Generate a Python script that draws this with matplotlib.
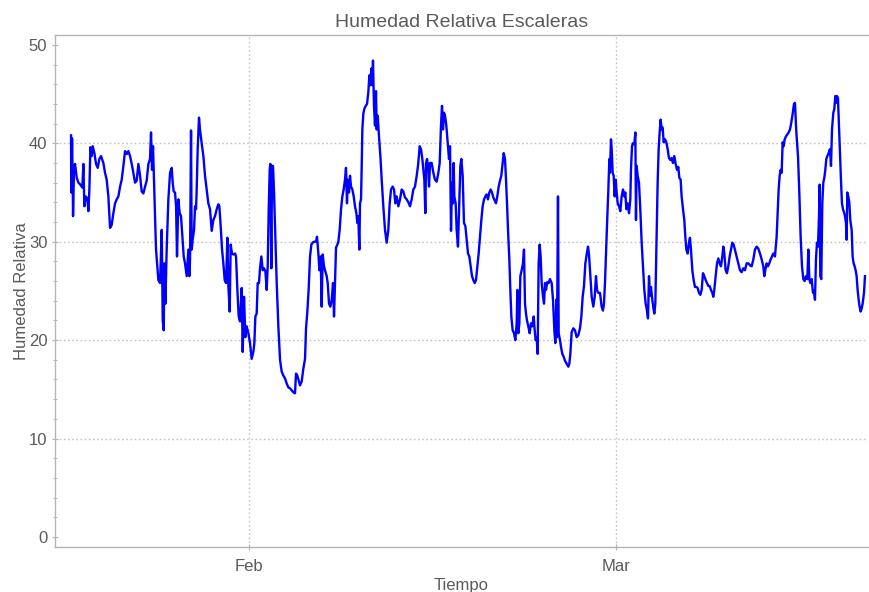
import matplotlib
matplotlib.use("Agg")
import matplotlib.pyplot as plt
import matplotlib.dates as mdates
import pandas as pd

# Registro de humedad relativa (sensor de la escalera)
inicio = "2020-01-17 22:25"

# horas transcurridas desde el inicio del registro
horas = [
    0.0, 0.6, 1.9, 3.2, 3.8, 5.7, 7.6, 10.8, 13.9, 17.7, 21.5, 23.4, 25.3, 27.8, 31.0, 32.9, 34.8, 36.7,
    39.2, 41.1, 44.3, 47.4, 50.6, 53.7, 56.9, 61.3, 64.5, 67.6, 70.8, 74.0, 77.1, 80.3, 83.5, 86.6,
    89.8, 93.0, 96.1, 99.3, 102.4, 105.6, 108.8, 111.9, 115.1, 118.2, 121.4, 124.5, 127.7, 130.9,
    134.0, 137.2, 140.4, 143.5, 146.7, 149.8, 151.7, 153.6, 155.5, 157.4, 159.3, 161.2, 163.1, 165.6,
    168.8, 172.0, 173.9, 175.8, 177.0, 178.9, 181.4, 184.6, 187.8, 190.9, 192.8, 194.7, 197.3, 199.2,
    201.0, 203.6, 206.1, 208.6, 211.2, 213.7, 216.2, 219.4, 222.5, 224.4,
    225.7, 227.6, 228.8, 230.7, 233.3, 235.2, 237.1, 238.3, 240.2, 242.7, 244.6, 247.8, 251.0, 254.1,
    257.3, 260.4, 263.6, 266.8, 269.9, 273.1, 276.3, 279.4, 281.3, 283.8, 286.4, 288.9, 291.4, 294.0,
    296.5, 298.4, 300.9, 302.8, 305.3, 307.9, 311.0, 312.9, 315.5, 318.0, 320.5, 323.7, 325.6, 328.1,
    330.6, 333.2, 336.3, 339.5, 342.6, 345.8, 347.7, 349.6, 352.1, 354.0, 356.5, 358.4, 361.0, 363.5,
    366.0, 368.6, 371.1, 373.0, 374.9, 376.8, 378.0, 379.9, 381.2, 383.1, 385.0, 387.5, 390.1, 393.2,
    396.4, 399.5, 402.7, 405.9, 409.0, 412.2, 415.3, 418.5, 421.7, 424.8, 426.7, 429.2, 431.8, 434.3,
    437.5, 440.6, 443.8, 445.7, 448.2, 450.7, 453.3, 455.8, 458.3, 460.9, 464.7, 466.5, 469.1, 471.0,
    473.5, 475.4, 477.3, 479.8, 481.7,
    484.9, 486.8, 489.3, 491.8, 494.4, 496.9, 498.8, 500.7, 502.6, 505.1, 507.0, 509.5, 512.1, 514.6,
    517.1, 519.6, 521.5, 523.4, 524.7, 527.2, 529.1, 531.0, 533.6, 536.1, 538.6, 541.1, 543.0, 544.9,
    546.8, 548.1, 550.0, 551.3, 552.5, 554.4, 556.3, 558.9, 561.4, 563.9, 565.8, 567.7, 569.6, 571.5,
    572.7, 574.6, 576.5, 578.4, 579.7, 581.6, 584.1, 586.7, 589.2, 592.3, 595.5, 598.7, 601.8, 604.4,
    606.9, 610.0, 612.6, 615.1, 617.6, 620.8, 624.0, 627.1, 630.3, 633.4, 636.6, 639.8, 642.9, 646.1,
    649.2, 652.4, 655.6, 658.1, 661.3, 663.8, 666.3, 668.8, 670.1, 672.0, 673.3, 675.2, 677.1, 679.0,
    680.9, 684.0, 687.2, 690.3, 693.5, 696.7, 699.2, 701.7, 703.6, 705.5, 707.4, 709.3, 711.8, 714.4,
    716.9, 718.8, 720.7, 722.6, 724.5, 725.7, 727.0, 729.5, 731.4, 733.9, 735.9, 738.4, 740.3,
    742.8, 745.3, 747.9, 750.4, 752.9, 755.4, 758.0, 760.5, 763.0, 765.6, 768.1, 770.6, 773.1, 775.7,
    778.2, 780.7, 783.3, 785.8, 788.3, 790.8, 793.4, 795.9, 798.4, 800.9, 803.5, 806.0, 808.5, 811.1,
    813.6, 816.1, 818.7, 820.6, 823.1, 825.0, 826.9, 828.8, 831.3, 833.2, 835.1, 837.6, 840.2, 842.7,
    845.2, 846.5, 848.4, 850.3, 852.2, 854.7, 857.2, 859.1, 861.0, 862.9, 864.8, 867.3, 869.9, 872.4,
    874.9, 877.5, 879.4, 881.3, 883.1, 885.0, 886.9, 888.8, 890.7, 892.6, 895.2, 897.1, 899.0, 900.9,
    903.4, 905.9, 908.4, 911.6, 914.1, 916.7, 918.5, 920.4, 921.7, 923.6, 924.9, 927.4, 929.3, 931.8,
    934.4, 936.9, 940.0, 943.2, 945.1, 947.0, 949.5, 952.7, 955.8, 959.0, 962.2, 965.3, 967.9, 970.4,
    972.9, 975.5, 978.0, 980.5, 982.4, 984.3, 987.5, 990.6, 993.2,
    995.7, 997.6, 1000.1, 1003.3, 1006.4, 1008.9, 1010.8, 1012.7, 1014.6, 1017.2, 1019.1, 1021.0,
    1022.2, 1024.1, 1025.4, 1027.3, 1029.2, 1031.1, 1033.0, 1034.9, 1036.8, 1039.3, 1041.8, 1044.3,
    1046.9, 1049.4, 1051.3, 1053.2, 1055.7, 1058.3, 1060.8, 1062.0, 1064.0, 1065.8, 1068.4, 1070.3,
    1071.5, 1072.8, 1074.7, 1077.2, 1079.7, 1082.3, 1084.8, 1087.3, 1089.9, 1092.4, 1094.3, 1096.2,
    1098.1, 1100.0, 1102.5, 1104.4, 1106.3, 1108.2, 1110.1, 1112.6, 1114.5, 1116.4, 1118.3, 1120.2,
    1122.1, 1124.0, 1126.5, 1129.1, 1131.6, 1134.1, 1136.6, 1139.2, 1141.7, 1144.2, 1146.8, 1149.3,
    1151.8, 1153.7, 1156.2, 1158.1, 1160.7, 1163.2, 1165.1, 1167.0, 1169.5, 1172.0, 1173.9, 1175.8,
    1178.4, 1180.9, 1183.4, 1186.0, 1188.5, 1191.0, 1193.5, 1196.1, 1198.6, 1201.1, 1203.7, 1206.2,
    1208.7, 1211.2, 1213.8, 1216.3, 1218.2, 1220.1, 1222.6, 1225.2, 1227.7, 1230.2, 1232.7, 1235.3,
    1237.2, 1239.1, 1241.6, 1244.1, 1246.6, 1249.2, 1251.7, 1254.2, 1256.8,
    1262.4, 1265.6, 1268.8, 1271.9, 1275.1, 1278.2, 1281.4, 1284.6, 1287.7, 1290.9, 1294.1, 1297.2,
    1300.4, 1303.5, 1306.7, 1309.9, 1313.0, 1314.9, 1316.8, 1319.3, 1321.9, 1324.4, 1326.9, 1329.5,
    1332.0, 1335.1, 1338.3, 1340.2, 1342.1, 1344.0, 1345.9, 1347.8, 1349.7, 1351.6, 1353.5, 1356.0,
    1358.5, 1361.1, 1363.6, 1366.1, 1368.7, 1371.2, 1373.1, 1375.0, 1376.2, 1378.8, 1381.3, 1383.8,
    1386.4, 1388.9, 1391.4, 1393.9, 1396.5, 1398.4, 1400.3, 1402.2, 1404.7, 1407.2, 1409.1, 1411.0,
    1412.9, 1414.8, 1416.7, 1418.6, 1419.9, 1421.1, 1423.0, 1424.9, 1426.8, 1428.7, 1430.6, 1432.5,
    1434.4, 1436.9, 1439.4, 1441.4, 1443.3, 1445.8, 1447.7, 1449.6, 1450.8, 1452.7, 1454.6, 1456.5,
    1458.4, 1460.3, 1462.2, 1464.1, 1466.0, 1467.9, 1469.8, 1471.1, 1472.3, 1474.2, 1476.1, 1478.0,
    1480.6, 1482.4, 1484.3, 1486.2, 1488.1, 1490.0, 1491.9, 1493.8, 1495.7, 1497.6, 1499.5, 1501.4,
    1504.0, 1505.8,
]

# humedad relativa (%) en cada instante
humedad = [
    40.8, 35.0, 40.5, 36.0, 32.6, 37.5, 37.9, 36.5, 36.0, 35.8, 35.5, 37.9, 33.6, 34.6, 34.4, 33.1, 35.3, 39.6,
    38.7, 39.7, 39.0, 37.9, 37.5, 38.4, 38.7, 38.0, 37.0, 36.3, 34.6, 31.4, 31.7, 32.9, 33.9, 34.3,
    34.6, 35.6, 36.3, 37.7, 39.2, 38.9, 39.2, 38.7, 37.9, 37.0, 36.0, 36.2, 37.9, 36.7,
    35.1, 34.9, 35.6, 36.2, 37.9, 38.4, 41.1, 37.3, 39.7, 36.0, 32.6, 29.2, 27.8, 26.1,
    25.8, 31.2, 22.0, 21.0, 27.8, 23.7, 29.2, 34.3, 37.0, 37.5, 36.0, 35.1, 35.0, 33.6,
    28.5, 34.3, 32.9, 32.6, 30.5, 28.5, 27.8, 26.5, 29.2, 26.5,
    28.2, 41.3, 29.2, 30.2, 31.2, 33.6, 33.3, 35.3, 39.4, 42.6, 41.4, 40.0, 38.7, 36.7,
    35.3, 33.9, 33.3, 31.1, 32.2, 32.6, 33.3, 33.8, 33.6, 31.6, 29.2, 27.8, 26.1, 25.8,
    30.4, 25.5, 22.9, 29.7, 28.8, 28.7, 28.8, 28.5, 25.1, 22.4, 21.9, 25.3, 18.8, 24.4,
    20.3, 21.4, 20.7, 19.7, 18.1, 18.8, 19.7, 22.4, 22.7, 25.8, 25.8, 27.3, 28.5, 27.1,
    27.3, 27.0, 25.1, 27.5, 33.3, 37.3, 37.9, 27.3, 37.7, 37.7, 35.0, 30.5, 25.8, 21.4,
    18.0, 16.8, 16.4, 16.1, 15.6, 15.2, 15.1, 14.9, 14.7, 14.6, 16.6, 16.4, 15.9, 15.4,
    15.8, 17.1, 18.1, 21.2, 22.9, 25.2, 28.5, 29.7, 29.9, 30.0, 30.0, 30.5, 28.8, 27.1,
    28.5, 23.4, 28.7, 27.5, 27.1,
    26.5, 25.8, 23.7, 23.4, 24.1, 25.8, 22.4, 25.8, 29.4, 29.7, 30.0, 31.2, 33.3, 34.6,
    35.3, 36.3, 37.5, 33.9, 36.3, 35.0, 36.7, 35.6, 35.3, 34.6, 33.6, 32.9, 31.9, 32.6,
    29.2, 33.9, 34.3, 37.7, 41.4, 43.0, 43.5, 43.8, 44.0, 45.2, 46.9, 45.9, 47.6, 45.9,
    48.4, 43.8, 41.8, 45.3, 41.4, 42.8, 40.7, 38.7, 36.3, 33.6, 31.2, 29.9, 31.2, 33.9,
    35.3, 35.6, 35.3, 33.9, 34.6, 33.6, 34.3, 35.3, 35.1, 34.5, 34.3, 34.0, 33.6, 34.3,
    35.3, 35.6, 36.7, 37.7, 39.7, 39.4, 38.4, 37.0, 36.3, 32.9, 38.0, 38.4, 37.7, 35.6,
    38.0, 38.0, 37.0, 36.3, 36.1, 37.0, 38.0, 41.8, 43.8, 41.4, 43.1, 42.8, 41.8, 40.1,
    38.4, 39.7, 31.1, 36.0, 33.9, 38.0, 34.6, 33.9, 31.2, 29.5, 33.3, 37.7, 38.4,
    36.7, 31.9, 31.6, 30.2, 28.8, 28.5, 27.5, 26.5, 26.1, 25.8, 26.1, 27.5, 28.8, 30.5,
    32.2, 33.6, 34.3, 34.6, 34.8, 34.3, 35.0, 35.3, 35.0, 34.5, 34.2, 33.9, 34.6, 35.6,
    36.2, 36.7, 38.0, 39.0, 38.4, 36.3, 33.9, 31.2, 28.2, 25.1, 22.4, 21.0, 20.7, 20.0,
    21.7, 25.1, 20.7, 21.7, 26.5, 27.1, 27.8, 29.2, 23.7, 22.7, 22.0, 21.4, 20.7, 21.7,
    21.4, 22.4, 21.0, 20.0, 20.3, 18.6, 27.8, 29.7, 28.5, 25.8, 24.4, 23.7, 25.8, 25.1,
    25.9, 25.8, 26.2, 25.8, 24.1, 21.0, 19.7, 24.1, 20.3, 34.6, 20.7, 20.0, 19.3, 18.6,
    18.3, 17.9, 17.6, 17.3, 17.6, 18.6, 20.8, 21.2, 21.0, 20.3, 20.5, 21.2, 22.4, 24.4,
    25.5, 27.8, 28.7, 29.5, 28.7, 27.1, 24.4, 23.4, 24.4,
    26.5, 25.1, 24.8, 24.8, 23.4, 23.0, 23.7, 25.8, 28.8, 32.6, 35.3, 38.4,
    37.0, 40.4, 39.4, 37.0, 36.7, 34.6, 36.3, 35.0, 33.9, 33.6, 33.1, 34.6,
    35.3, 34.6, 35.0, 33.3, 33.9, 32.9, 34.3, 37.3, 39.7, 40.0, 39.9, 41.1,
    32.2, 37.7, 36.7, 36.0, 33.3, 29.9, 27.5, 25.1, 23.7, 23.0, 22.2, 26.5,
    24.5, 25.4, 24.1, 23.3, 22.7, 23.7, 29.2, 36.0, 39.4, 41.1, 42.4, 41.4,
    41.6, 40.1, 40.4, 40.1, 39.4, 38.5, 38.3, 38.5, 38.0, 38.7, 37.9, 37.3,
    37.6, 36.5, 36.3, 34.6, 33.3, 32.2, 30.5, 29.2, 28.8, 29.9, 30.4, 29.2,
    27.1, 26.1, 25.4, 25.4, 25.3, 24.8, 24.6, 25.1, 26.8, 26.5, 26.1, 25.8,
    25.5, 25.5, 25.1, 24.8, 24.4, 25.1, 26.5, 27.8, 28.3, 27.8, 27.5, 28.5,
    29.5, 28.8, 27.1, 26.8, 27.5, 28.5, 29.2, 29.9, 29.7,
    28.5, 27.8, 27.1, 26.9, 27.3, 27.1, 27.8, 27.8, 27.6, 27.5, 28.2, 29.2,
    29.5, 29.3, 28.8, 28.2, 27.5, 26.5, 27.1, 27.8, 27.5, 27.8, 28.2, 28.5,
    28.8, 28.5, 30.5, 32.9, 35.3, 36.7, 37.3, 37.0, 40.1, 39.7, 40.4, 40.7,
    40.9, 41.1, 41.4, 42.1, 43.0, 44.0, 44.1, 41.8, 40.7, 38.7, 35.0, 30.5,
    27.5, 26.2, 26.0, 26.5, 26.2, 29.2, 26.2, 25.8, 26.2, 24.8, 25.0, 24.1,
    28.2, 29.9, 29.5, 32.6, 35.8, 26.5, 26.2, 33.9, 36.0, 36.5, 37.3, 38.4,
    38.7, 39.0, 39.4, 37.7, 41.4, 43.1, 43.5, 44.8, 44.1, 44.8, 44.6, 41.8,
    39.0, 36.3, 33.9, 33.3, 33.0, 32.6, 31.9, 30.2, 35.0, 34.6, 34.0, 32.2,
    31.2, 28.5, 27.8, 27.5, 27.1, 26.5, 25.1, 24.1, 23.4, 22.9, 23.2, 23.7,
    24.8, 26.5,
]

# rango del eje temporal y marcas
limites_x = ["2020-01-16 16:00", "2020-03-20 22:00"]
marcas_x = ["2020-02-01", "2020-03-01"]
etiquetas_x = ["Feb", "Mar"]
marcas_y = [0, 10, 20, 30, 40, 50]

tiempo = pd.Timestamp(inicio) + pd.to_timedelta(horas, unit="h")

plt.rcParams["font.family"] = ["Liberation Sans", "DejaVu Sans"]
gris_texto = "#5a5a5a"
gris_marco = "#b5b5b5"
gris_rejilla = "#c4c4c4"

fig = plt.figure(figsize=(8.7, 5.92), dpi=100)
ax = fig.add_axes([55 / 870, 45 / 592, (868 - 55) / 870, (547 - 35) / 592])

ax.plot(tiempo, humedad, color=(0.0, 0.0, 1.0), lw=1.7, solid_joinstyle="round", zorder=3)

ax.set_xlim(pd.Timestamp(limites_x[0]), pd.Timestamp(limites_x[1]))
ax.set_ylim(-1.02, 51.0)

ax.set_xticks([pd.Timestamp(m) for m in marcas_x])
ax.set_xticklabels(etiquetas_x)
ax.set_yticks(marcas_y)
ax.yaxis.set_minor_locator(matplotlib.ticker.MultipleLocator(2))

for y in marcas_y[1:-1]:
    ax.axhline(y, color=gris_rejilla, lw=1.0, ls=(0, (1.2, 1.8)), zorder=1)
for m in marcas_x:
    ax.axvline(pd.Timestamp(m), color=gris_rejilla, lw=1.0, ls=(0, (1.2, 1.8)), zorder=1)

for nombre, sp in ax.spines.items():
    sp.set_color(gris_marco)
    sp.set_linewidth(1.0)
ax.spines["right"].set_visible(False)

ax.tick_params(axis="both", which="major", direction="inout", length=5, width=0.8,
               color=gris_marco, labelcolor=gris_texto, labelsize=12, pad=3)
ax.tick_params(axis="y", which="minor", direction="inout", length=3, width=0.7, color=gris_marco)
ax.tick_params(axis="x", which="major", pad=6)

ax.set_title("Humedad Relativa Escaleras", color=gris_texto, fontsize=14, pad=6)
ax.set_xlabel("Tiempo", color=gris_texto, fontsize=12, labelpad=3)
ax.set_ylabel("Humedad Relativa", color=gris_texto, fontsize=12, labelpad=0)

fig.savefig("out.png", dpi=100)
